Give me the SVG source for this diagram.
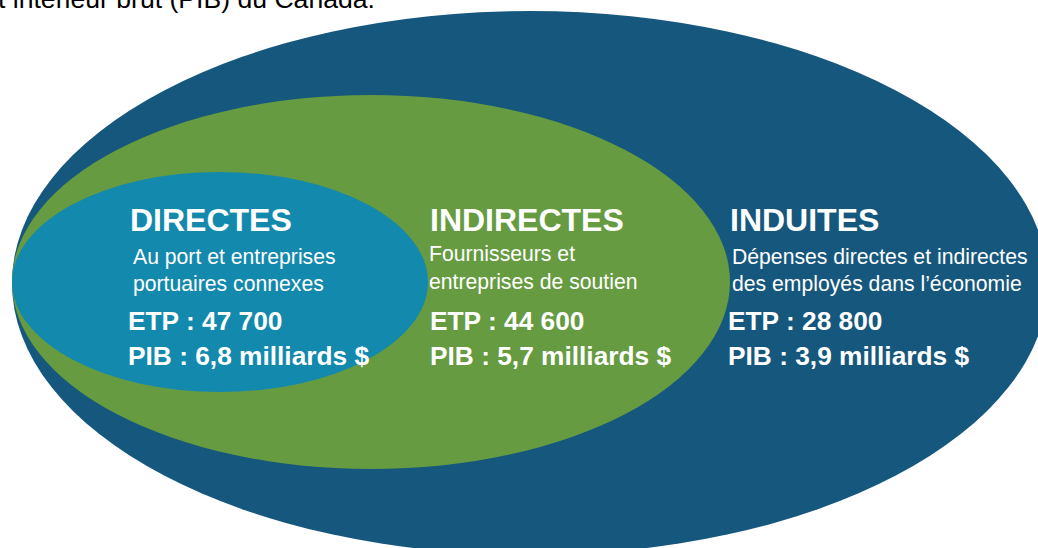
<svg xmlns="http://www.w3.org/2000/svg" width="1038" height="548" viewBox="0 0 1038 548">
  <style>
    .h { font-family: "Liberation Sans", Arial, sans-serif; font-weight: bold; font-size: 32px; fill: #ffffff; }
    .s { font-family: "Liberation Sans", Arial, sans-serif; font-size: 21.2px; fill: #ffffff; }
    .v { font-family: "Liberation Sans", Arial, sans-serif; font-weight: bold; font-size: 26.3px; fill: #ffffff; }
    .cap { font-family: "Liberation Sans", Arial, sans-serif; font-size: 26.6px; fill: #000000; }
  </style>
  <rect width="1038" height="548" fill="#ffffff"/>
  <text class="cap" x="-2" y="8">t intérieur brut (PIB) du Canada.</text>
  <g id="induites">
    <ellipse cx="530" cy="283" rx="518" ry="272" fill="#16577D"/>
  </g>
  <g id="indirectes">
    <ellipse cx="371" cy="282" rx="359" ry="187" fill="#669B41"/>
  </g>
  <g id="directes">
    <ellipse cx="220" cy="282" rx="208" ry="110" fill="#1389AD"/>
  </g>
  <g id="directes-text">
    <text class="h" x="130" y="231">DIRECTES</text>
    <text class="s" x="133" y="264">Au port et entreprises</text>
    <text class="s" x="133" y="291">portuaires connexes</text>
    <text class="v" x="128" y="330">ETP : 47 700</text>
    <text class="v" x="128" y="365">PIB : 6,8 milliards $</text>
  </g>
  <g id="indirectes-text">
    <text class="h" x="430" y="231">INDIRECTES</text>
    <text class="s" x="429" y="261">Fournisseurs et</text>
    <text class="s" x="429" y="289">entreprises de soutien</text>
    <text class="v" x="430" y="330">ETP : 44 600</text>
    <text class="v" x="430" y="365">PIB : 5,7 milliards $</text>
  </g>
  <g id="induites-text">
    <text class="h" x="730" y="231">INDUITES</text>
    <text class="s" x="732" y="264">Dépenses directes et indirectes</text>
    <text class="s" x="732" y="291">des employés dans l’économie</text>
    <text class="v" x="728" y="330">ETP : 28 800</text>
    <text class="v" x="728" y="365">PIB : 3,9 milliards $</text>
  </g>
  <g id="connectors"/>
</svg>
